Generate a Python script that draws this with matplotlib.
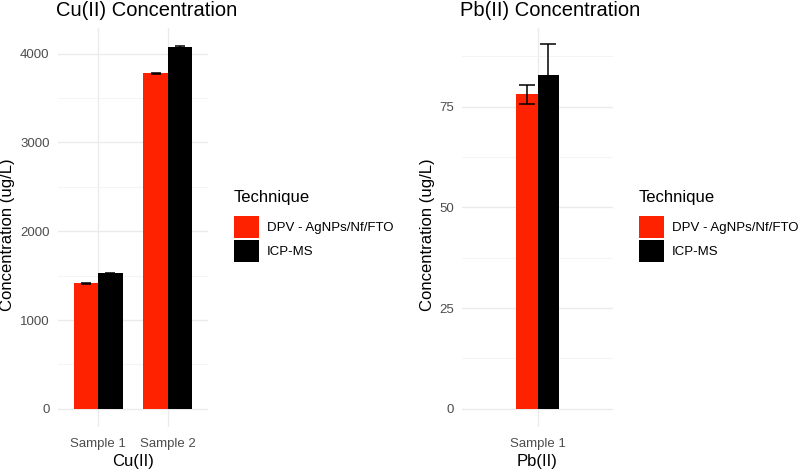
import numpy as np
import matplotlib
matplotlib.use("Agg")
import matplotlib.pyplot as plt
from matplotlib.patches import Patch
from matplotlib.ticker import MultipleLocator

plt.rcParams["font.family"] = ["Liberation Sans", "DejaVu Sans"]

techniques = ["DPV - AgNPs/Nf/FTO", "ICP-MS"]
colors = ["#FF2200", "#000000"]

cu_samples = ["Sample 1", "Sample 2"]
cu_dpv = [1415, 3780]
cu_dpv_err = [8, 6]
cu_icp = [1525, 4075]
cu_icp_err = [8, 8]

pb_samples = ["Sample 1"]
pb_dpv = [78.0]
pb_dpv_err = [2.4]
pb_icp = [82.8]
pb_icp_err = [7.7]

grid_major = "#EBEBEB"
grid_minor = "#F3F3F3"
tick_col = "#4D4D4D"


def panel(fig, rect, samples, dpv, dpv_err, icp, icp_err, title, xlabel,
          ylim, xlim, major, capsize, legend_xy, ylab_x):
    ax = fig.add_axes(rect)
    x = np.arange(1, len(samples) + 1)
    w = 0.35
    ax.bar(x - w / 2, dpv, width=w, color=colors[0], zorder=2)
    ax.bar(x + w / 2, icp, width=w, color=colors[1], zorder=2)
    ax.errorbar(x - w / 2, dpv, yerr=dpv_err, fmt="none", ecolor="black",
                elinewidth=1.1, capsize=capsize, capthick=1.1, zorder=3)
    ax.errorbar(x + w / 2, icp, yerr=icp_err, fmt="none", ecolor="black",
                elinewidth=1.1, capsize=capsize, capthick=1.1, zorder=3)
    ax.set_xlim(*xlim)
    ax.set_ylim(*ylim)
    ax.set_xticks(x)
    ax.set_xticklabels(samples)
    ax.yaxis.set_major_locator(MultipleLocator(major))
    ax.yaxis.set_minor_locator(MultipleLocator(major / 2))
    ax.grid(True, which="major", color=grid_major, lw=1.0, zorder=0)
    ax.grid(True, which="minor", axis="y", color=grid_minor, lw=0.6, zorder=0)
    ax.set_axisbelow(True)
    for s in ax.spines.values():
        s.set_visible(False)
    ax.tick_params(which="both", length=0, labelsize=9.5, labelcolor=tick_col)
    ax.tick_params(axis="y", pad=6)
    ax.tick_params(axis="x", pad=8)
    ax.set_title(title, fontsize=14.5, loc="left", pad=9, x=-0.01)
    ax.set_xlabel(xlabel, fontsize=12, labelpad=3)
    ax.set_ylabel("Concentration (ug/L)", fontsize=12)
    ax.yaxis.set_label_coords(ylab_x, 0.5, transform=fig.transFigure)
    handles = [Patch(facecolor=c, edgecolor="none") for c in colors]
    leg = fig.legend(handles, techniques, loc="upper left",
                     bbox_to_anchor=legend_xy, frameon=False, title="Technique",
                     fontsize=9.5, title_fontsize=12, handlelength=1.9,
                     handleheight=2.2, labelspacing=0.1, handletextpad=0.6,
                     borderpad=0, borderaxespad=0)
    leg._legend_box.align = "left"
    leg._legend_box.sep = 8
    return ax


fig = plt.figure(figsize=(8, 4.69), dpi=100)

panel(fig, [58 / 800, 42 / 469, 150 / 800, 399 / 469],
      cu_samples, cu_dpv, cu_dpv_err, cu_icp, cu_icp_err,
      "Cu(II) Concentration", "Cu(II)", (-204, 4289), (0.42, 2.58),
      1000, 3.5, (234 / 800, 1 - 190 / 469), 15 / 800)

panel(fig, [462 / 800, 42 / 469, 151 / 800, 399 / 469],
      pb_samples, pb_dpv, pb_dpv_err, pb_icp, pb_icp_err,
      "Pb(II) Concentration", "Pb(II)", (-4.5, 94.5), (-0.21, 2.21),
      25, 5.5, (639 / 800, 1 - 190 / 469), 435 / 800)

fig.savefig("out.png", dpi=100, facecolor="white")
